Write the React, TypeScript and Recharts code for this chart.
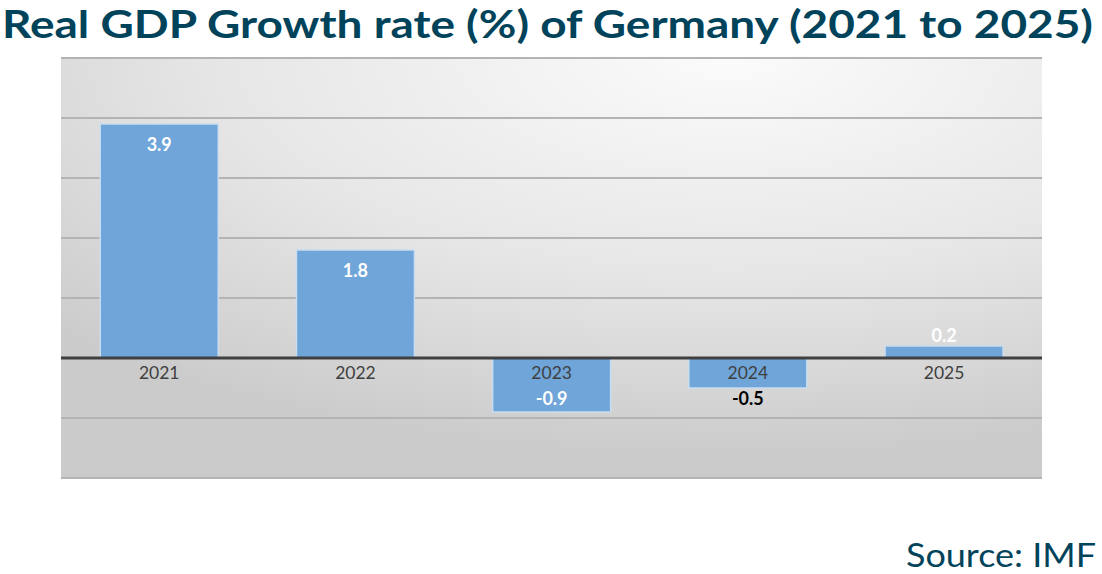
import React from "react";
import { BarChart, Bar, XAxis, YAxis, CartesianGrid, ReferenceLine, LabelList } from "recharts";

const years = ["2021", "2022", "2023", "2024", "2025"];
const growth = [3.9, 1.8, -0.9, -0.5, 0.2];
const yTicks = [-2, -1, 0, 1, 2, 3, 4, 5];

const data = years.map((year, i) => ({ year, value: growth[i] }));

const TEAL = "#00435a";
const FONT = "Lato, 'Open Sans', sans-serif";

// category name sits just under the zero line, value label inside or outside the bar end
function BarLabels(props: any) {
  const { x, y, width, height, value, index } = props;
  const top = Math.min(y, y + height);
  const bottom = Math.max(y, y + height);
  const barH = bottom - top;
  const cx = x + width / 2;
  const zeroY = value >= 0 ? bottom : top;
  const inside = barH > 40;

  let labelY: number;
  let color = "#ffffff";
  if (value >= 0) {
    labelY = inside ? top + 27 : top - 4;
  } else if (inside) {
    labelY = bottom - 7;
  } else {
    labelY = bottom + 17;
    color = "#000000";
  }

  return (
    <g>
      <text x={cx} y={zeroY + 21} textAnchor="middle" fontFamily={FONT} fontSize={17.5} fill="#404040">
        {years[index]}
      </text>
      <text x={cx} y={labelY} textAnchor="middle" fontFamily={FONT} fontSize={18} fontWeight={700} fill={color}>
        {value}
      </text>
    </g>
  );
}

export default function App() {
  return (
    <div style={{ position: "absolute", left: 0, top: 0, width: 1102, height: 574, background: "#ffffff" }}>
      <div style={{ position: "absolute", left: 0, top: 0 }}>
        <BarChart
          width={1102}
          height={574}
          data={data}
          margin={{ top: 58, right: 60, bottom: 96, left: 61 }}
          barCategoryGap="20%"
        >
          <defs>
            <radialGradient id="plotBg" cx="68%" cy="0%" r="95%" fx="68%" fy="0%">
              <stop offset="0%" stopColor="#fbfbfb" />
              <stop offset="55%" stopColor="#e6e6e6" />
              <stop offset="100%" stopColor="#cbcbcb" />
            </radialGradient>
          </defs>
          <CartesianGrid vertical={false} fill="url(#plotBg)" fillOpacity={1} stroke="#b4b4b4" strokeWidth={2} />
          <XAxis dataKey="year" hide />
          <YAxis hide domain={[-2, 5]} ticks={yTicks} />
          <Bar dataKey="value" fill="#6fa5d8" stroke="#c9ddf0" strokeWidth={1.5} isAnimationActive={false}>
            <LabelList dataKey="value" content={BarLabels} />
          </Bar>
          <ReferenceLine y={0} stroke="#404040" strokeWidth={3} />
        </BarChart>
      </div>
      <svg width={1102} height={574} style={{ position: "absolute", left: 0, top: 0, pointerEvents: "none" }}>
        <text x={2} y={38} fontFamily={FONT} fontWeight={700} fontSize={38} fill={TEAL} textLength={1091} lengthAdjust="spacingAndGlyphs">
          Real GDP Growth rate (%) of Germany (2021 to 2025)
        </text>
        <text x={906} y={567} fontFamily={FONT} fontSize={33} fill={TEAL} textLength={190} lengthAdjust="spacingAndGlyphs">
          Source: IMF
        </text>
      </svg>
    </div>
  );
}
